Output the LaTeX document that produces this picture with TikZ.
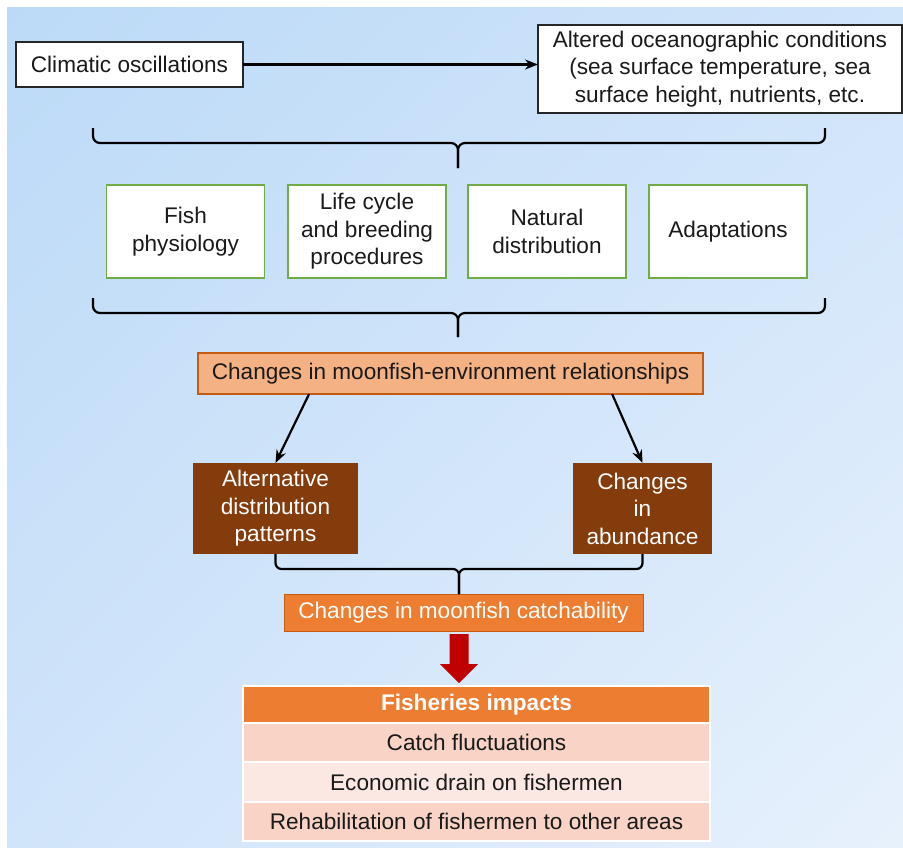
\documentclass[tikz,border=0pt]{standalone}
\usepackage{fontspec}
\setmainfont{Liberation Sans}
\usetikzlibrary{
  arrows.meta,
  positioning,
  calc,
  shadings
}
\definecolor{mfBgA}{HTML}{BCDAF7}
\definecolor{mfBgB}{HTML}{D0E4FA}
\definecolor{mfBgC}{HTML}{E7F1FC}
\definecolor{mfGreen}{HTML}{70AD47}
\definecolor{mfPeach}{HTML}{F4B183}
\definecolor{mfPeachLine}{HTML}{C55A11}
\definecolor{mfBrown}{HTML}{843C0C}
\definecolor{mfOrange}{HTML}{ED7D31}
\definecolor{mfRed}{HTML}{C00000}
\definecolor{mfRowA}{HTML}{F8D3C6}
\definecolor{mfRowB}{HTML}{FBE8E2}
\definecolor{mfText}{HTML}{1A1A1A}
\tikzset{
  mfnode/.style={
    rectangle, inner sep=0pt, outer sep=0pt, align=center, text=mfText,
    font=\fontsize{22.6}{27.5}\selectfont
  },
  plainbox/.style={mfnode, draw=black!85, fill=white, line width=1.4pt},
  factor/.style={mfnode, draw=mfGreen, fill=white, line width=1.5pt, minimum width=158pt, minimum height=93pt},
  relbox/.style={mfnode, draw=mfPeachLine, fill=mfPeach, line width=1.2pt},
  effect/.style={mfnode, fill=mfBrown, text=white},
  catchbox/.style={mfnode, draw=mfPeachLine, fill=mfOrange, text=white, line width=1pt},
  impacthead/.style={mfnode, fill=mfOrange, draw=white, line width=1.8pt, text=white,
    font=\fontsize{22.6}{27.5}\selectfont\bfseries, minimum width=467pt, minimum height=37pt},
  impactrow/.style={mfnode, draw=white, line width=1.8pt, minimum width=467pt, minimum height=39.3pt},
  flow/.style={-{Stealth[length=13pt, width=10pt]}, line width=2.2pt, black},
  curly/.style={line width=2.2pt, black, rounded corners=7pt},
  blockarrow/.style={fill=mfRed}
}
\begin{document}
\begin{tikzpicture}[x=1pt, y=-1pt, node distance=0pt]
  \useasboundingbox (0,0) rectangle (903,847);
  \fill[white] (0,0) rectangle (903,847);
  \shade[upper left=mfBgA, upper right=mfBgB, lower left=mfBgB, lower right=mfBgC] (7,7) rectangle (903,847);

  \node[plainbox, minimum width=227pt, minimum height=45pt] (clim) at (129.5,64.5) {Climatic oscillations};
  \node[plainbox, minimum width=364pt, minimum height=88pt] (ocean) at (720,69)
    {Altered oceanographic conditions\\(sea surface temperature, sea\\surface height, nutrients, etc.};
  \draw[flow] (clim.east) -- (clim.east -| ocean.west);

  \coordinate (b1l) at (93,128);
  \coordinate (b1r) at (825,128);
  \coordinate (b1m) at (458,143);
  \coordinate (b1t) at (458,168);
  \draw[curly] (b1l) |- (b1m) -- (b1t);
  \draw[curly] (b1r) |- (b1m) -- (b1t);

  \foreach \n/\x/\txt in {phys/185.5/{Fish\\physiology}, cycle/367/{Life cycle\\and breeding\\procedures},
      natdist/547/{Natural\\distribution}, adapt/728/{Adaptations}}{
    \node[factor] (\n) at (\x,231.5) {\txt};
  }

  \coordinate (b2l) at (93,298);
  \coordinate (b2r) at (825,298);
  \coordinate (b2m) at (458,313);
  \coordinate (b2t) at (458,337);
  \draw[curly] (b2l) |- (b2m) -- (b2t);
  \draw[curly] (b2r) |- (b2m) -- (b2t);

  \node[relbox, minimum width=505pt, minimum height=41pt] (rel) at (450.5,373.5)
    {Changes in moonfish-environment relationships};

  \node[effect, minimum width=165pt, minimum height=91pt] (alt) at (275.5,508.5)
    {Alternative\\distribution\\patterns};
  \node[effect, minimum width=139pt, minimum height=91pt] (abund) at (642.5,508.5)
    {Changes\\in\\abundance};
  \draw[flow] ($(rel.south west)!0.22!(rel.south east)$) -- (alt.north);
  \draw[flow] ($(rel.south west)!0.82!(rel.south east)$) -- (abund.north);

  \node[catchbox, minimum width=359pt, minimum height=37pt] (catch) at (463.5,612.5)
    {Changes in moonfish catchability};

  \coordinate (b3m) at (459,569);
  \draw[curly, rounded corners=6pt] (alt.south) |- (b3m) -- (b3m |- catch.north);
  \draw[curly, rounded corners=6pt] (abund.south) |- (b3m) -- (b3m |- catch.north);

  \coordinate (ra) at ($(b3m |- catch.south)+(0,3)$);
  \fill[blockarrow] (ra) ++(-9.5,0) -- ++(19,0) -- ++(0,30) -- ++(9.5,0) -- ++(-19,19)
    -- ++(-19,-19) -- ++(9.5,0) -- cycle;

  \node[impacthead] (head) at (476.5,704.5) {Fisheries impacts};
  \node[impactrow, fill=mfRowA, below=of head] (row1) {Catch fluctuations};
  \node[impactrow, fill=mfRowB, below=of row1] (row2) {Economic drain on fishermen};
  \node[impactrow, fill=mfRowA, below=of row2] (row3) {Rehabilitation of fishermen to other areas};
\end{tikzpicture}
\end{document}
